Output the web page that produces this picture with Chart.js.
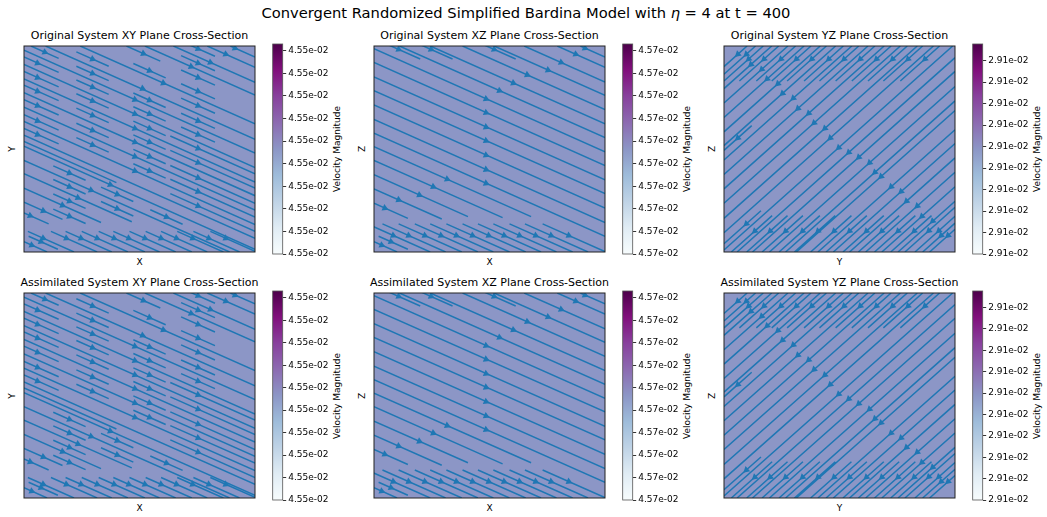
<!DOCTYPE html>
<html>
<head>
<meta charset="utf-8">
<script src="https://cdn.jsdelivr.net/npm/chart.js@4.4.1/dist/chart.umd.min.js"></script>
<style>
  body { margin: 0; background: #fff; width: 1047px; height: 517px; position: relative; overflow: hidden;
         font-family: "DejaVu Sans", sans-serif; color: #000; }
  canvas { position: absolute; }
  .t { position: absolute; white-space: nowrap; transform: translate(-50%, -50%); line-height: 1; }
  .rot { transform: translate(-50%, -50%) rotate(-90deg); }
</style>
</head>
<body>
<div class="t" style="left:526px; top:13px; font-size:14.7px;">Convergent Randomized Simplified Bardina Model with <i>η</i> = 4 at t = 400</div>
<script>
// --- data (grid units 0..30 on both axes) ---
// flow direction of the uniform velocity field in each plane [u, v]
const xyVelocity = [2, -1];
const xzVelocity = [2, -1];
const yzVelocity = [-1, -1];

// streamline pieces: [x start, y start, x end], they follow the flow direction
const xySegments = [
  [0,28.4,4.5],[0,26.3,4.5],[0,24.3,4.5],[0,22.2,4.5],[0,20.0,4.5],[0,18.0,4.5],
  [0.9,30,4.5],
  [6.8,29.15,11],[6.8,27.05,11],[6.8,25.05,11],[6.8,23.05,11],[6.8,20.95,11],[6.8,18.75,11],[6.8,16.65,11],
  [0,29.4,30],[0,27.3,30],[0,25.2,30],[0,23.2,30],[0,21.1,30],[0,19.0,30],[0,17.0,30],[0,16.1,12],
  [14.2,27.45,18.4],[14.2,23.15,18.4],[14.2,21.15,18.4],[14.2,19.05,18.4],[14.2,17.05,18.4],[14.2,14.95,18.4],[14.2,12.85,18.4],
  [13.3,30,17.7],
  [26.8,30,30],[23.8,30,30],[19.4,30,30],[15.7,30,30],[7.3,30,30],[2.8,30,30],
  [20.4,30.7,24.8],[20.4,28.6,24.8],[20.4,26.5,24.8],[20.4,24.5,24.8],[20.4,22.4,24.8],[20.4,20.2,24.8],[20.4,18.2,24.8],
  [19,16.9,30],[19,14.8,30],[19,12.6,30],[19,10.6,30],[19,8.5,30],
  [0,11.4,14],[0,9.3,10],[0,7.25,5],[0,5.7,3.2],[0,13.35,26.7],[0,15.4,30],
  [3.8,12.55,8.0],[10,9.45,14.2],[16.4,6.15,20.6],[3.8,10.55,8.0],[10,7.35,14.2],[3.8,8.45,8.0],[3.8,6.25,8.0],
  [0.5,3,6.5],[3.5,3,9.5],[5.4,3,11.4],[7.5,3,13.5],[9.7,3,15.7],[11.6,3,17.6],[13.7,3,19.7],[15.8,3,21.8],
  [17.8,3,23.8],[19.9,3,25.9],[22.0,3,28.0],[24.2,3,30.2],
  [0.6,2.3,4.4],[0,1.5,3.0]
];
const xyArrows = [
  [1.75,27.5],[1.75,25.4],[1.75,23.4],[1.75,21.3],[1.75,19.1],[1.75,17.1],
  [2.7,29.1],
  [8.9,28.1],[8.9,26.0],[8.9,24.0],[8.9,22.0],[8.9,19.9],[8.9,17.7],[8.9,15.6],
  [14.4,22.2],[14.4,20.1],[14.4,18.0],[14.4,16.0],[14.4,13.9],[14.4,11.8],
  [16.3,26.4],[16.3,22.1],[16.3,20.1],[16.3,18.0],[16.3,16.0],[16.3,13.9],[16.3,11.8],
  [15.5,28.9],
  [27.4,29.7],[26.2,28.8],[24.2,27.6],[21.7,27.0],[18.1,24.6],[15.4,23.8],
  [22.6,29.6],[22.6,27.5],[22.6,25.4],[22.6,23.4],[22.6,21.3],[22.6,19.1],[22.6,17.1],
  [22.6,15.1],[22.6,13.0],[22.6,10.8],[22.6,8.8],[22.6,6.7],
  [5.9,11.5],[5.9,9.5],[11.2,9.8],[8.7,9.0],[12.1,8.4],[7.0,7.9],[5.9,7.4],[5.0,6.8],
  [12.1,6.3],[2.5,6.0],[5.9,5.2],[0.8,5.3],[18.5,5.1],
  [2.5,2.0],[5.5,2.0],[7.4,2.0],[9.5,2.0],[11.7,2.0],[13.6,2.0],[15.7,2.0],[17.8,2.0],
  [19.8,2.0],[21.9,2.0],[24.0,2.0],[26.2,2.0],
  [2.2,1.5],[1.0,1.0]
];

const xzSegments = [
  [1.7,30.25,6.0],[5.9,30.25,10.2],[14.1,30.25,18.4],
  [26.8,30,30],[23.8,30,30],[19.5,30,30],[15.6,30,30],[11.5,30,30],[7.3,30,30],[3.3,30,30],
  [0,29.6,30],[0,27.6,30],[0,25.5,30],[0,23.5,30],[0,21.4,30],[0,19.3,30],[0,17.3,30],
  [0,15.35,20.4],[0,13.35,16.7],[0,11.25,12.2],[0,9.2,8.8],[0,7.1,4.4],
  [-0.9,4.1,7.3],[1.1,4.1,9.3],[3.2,4.1,11.4],[5.3,4.1,13.5],[7.3,4.1,15.5],[9.4,4.1,17.6],
  [11.5,4.1,19.7],[13.5,4.1,21.7],[15.5,4.1,23.7],[17.6,4.1,25.8],[19.6,4.1,27.8],[21.9,4.1,30.1],
  [0.6,2.3,4.4],[0,1.5,3.0]
];
const xzArrows = [
  [3.2,29.5],[7.4,29.5],[15.6,29.5],
  [27.4,29.7],[26.2,28.8],[24.3,27.6],[22.6,26.5],[19.9,25.8],[18.1,24.6],[16.3,23.5],
  [14.55,22.3],[14.55,20.3],[14.55,18.2],[14.55,16.2],[14.55,14.1],[14.55,12.0],[14.55,10.0],
  [9.5,10.6],[7.7,9.5],[5.9,8.3],[3.2,7.6],[1.4,6.4],
  [2.5,2.4],[4.5,2.4],[6.6,2.4],[8.7,2.4],[10.7,2.4],[12.8,2.4],[14.9,2.4],[16.9,2.4],
  [18.9,2.4],[21.0,2.4],[23.0,2.4],[25.3,2.4],
  [2.2,1.5],[1.0,1.0]
];

const yzSegments = [
  [0,21.7,8.3],[0,19.6,10.4],[0,17.5,12.5],[0,15.5,14.5],[0,13.4,16.6],[0,11.3,18.7],
  [0,9.2,20.8],[0,7.1,22.9],[0,4.9,25.1],[0,2.8,27.2],[0,0.3,29.7],
  [1.7,0,30],[3.7,0,30],[5.9,0,30],[8.0,0,30],[9.4,0,30],[12.2,0,30],[14.2,0,30],
  [16.3,0,30],[18.4,0,30],[20.5,0,30],[22.6,0,30],
  [0,27,3],[0,25.9,4.1],[0,24.9,5.1],[0,23.8,6.2],
  [2.0,24.9,7.1],[4.2,24.9,9.3],[6.2,24.9,11.3],[8.2,24.9,13.3],[10.4,24.9,15.5],[12.4,24.9,17.5],
  [14.5,24.9,19.6],[16.6,24.9,21.7],[18.7,24.9,23.8],[20.7,24.9,25.8],[22.9,24.9,28.0],
  [0,14.8,3.6],
  [0,1.2,4.8],[0.95,0,6.25],[2.95,0,8.25],[4.95,0,10.25],[7.15,0,12.45],[9.15,0,14.45],
  [11.25,0,16.55],[13.25,0,18.55],[15.45,0,20.75],[17.45,0,22.75],[19.55,0,24.85],[21.65,0,26.95],
  [23.5,0,30],[24.8,0,30],[25.8,0,30],[26.7,0,30]
];
const yzArrows = [
  [1.8,28.8],[2.9,28.8],[3.2,28.1],[3.5,27.3],
  [5.2,28.1],[7.4,28.1],[9.4,28.1],[11.4,28.1],[13.6,28.1],[15.6,28.1],[17.7,28.1],
  [19.8,28.1],[21.9,28.1],[23.9,28.1],[26.1,28.1],
  [4.9,26.6],[5.6,25.2],[7.0,24.5],[7.6,23.1],[9.0,22.4],[9.6,20.9],[11.0,20.2],[11.7,18.8],
  [13.1,18.0],[13.8,16.6],[14.9,15.2],[16.2,14.5],[17.5,13.8],[18.9,13.0],[19.6,11.6],[20.4,11.0],
  [21.7,9.5],[23.0,8.8],[23.7,7.4],[25.1,6.7],[25.7,5.2],[27.1,4.5],
  [1.8,16.6],
  [2.9,4.1],[4.0,3.05],[6.0,3.05],[8.0,3.05],[10.2,3.05],[12.2,3.05],[14.3,3.05],[16.3,3.05],
  [18.5,3.05],[20.5,3.05],[22.6,3.05],[24.7,3.05],
  [26.6,3.1],[27.9,3.1],[28.2,2.4],[29.1,2.4]
];

// colorbar tick labels (magnitude is constant, so every level prints the same)
const xyTicks = ['4.55e-02','4.55e-02','4.55e-02','4.55e-02','4.55e-02','4.55e-02','4.55e-02','4.55e-02','4.55e-02','4.55e-02'];
const xzTicks = ['4.57e-02','4.57e-02','4.57e-02','4.57e-02','4.57e-02','4.57e-02','4.57e-02','4.57e-02','4.57e-02','4.57e-02'];
const yzTicks = ['2.91e-02','2.91e-02','2.91e-02','2.91e-02','2.91e-02','2.91e-02','2.91e-02','2.91e-02','2.91e-02','2.91e-02'];
// top of each colorbar, in tick steps
const xyBarTop = 9.3, xzBarTop = 9.3, yzBarTop = 9.77;

const rowNames = ['Original', 'Assimilated'];

// BuPu colormap
const BUPU = ['#f7fcfd','#e0ecf4','#bfd3e6','#9ebcda','#8c96c6','#8c6bb1','#88419d','#810f7c','#4d004b'];

// --- helpers ---
function hex2rgb(h) { return [1, 3, 5].map(i => parseInt(h.substr(i, 2), 16)); }
function bupu(t) {
    const p = t * (BUPU.length - 1), i = Math.min(Math.floor(p), BUPU.length - 2), f = p - i;
    const a = hex2rgb(BUPU[i]), b = hex2rgb(BUPU[i + 1]);
    return `rgb(${a.map((v, k) => Math.round(v + (b[k] - v) * f)).join(',')})`;
}
function segPoints(segs, vel) {
    const k = vel[1] / vel[0];
    const pts = [];
    segs.forEach(s => {
        pts.push({ x: s[0], y: s[1] });
        pts.push({ x: s[2], y: s[1] + k * (s[2] - s[0]) });
        pts.push({ x: null, y: null });
    });
    return pts;
}
function addText(txt, x, y, size, rot) {
    const d = document.createElement('div');
    d.className = 't' + (rot ? ' rot' : '');
    d.style.left = x + 'px'; d.style.top = y + 'px'; d.style.fontSize = size + 'px';
    d.textContent = txt;
    document.body.appendChild(d);
}
function addCanvas(left, top, w, h) {
    const c = document.createElement('canvas');
    c.width = w; c.height = h;
    c.style.left = left + 'px'; c.style.top = top + 'px';
    c.style.width = w + 'px'; c.style.height = h + 'px';
    document.body.appendChild(c);
    return c;
}

// --- plugins ---
const fieldFill = {
    id: 'fieldFill',
    beforeDatasetsDraw(chart, args, opts) {
        const { ctx, chartArea: a } = chart;
        ctx.save();
        if (opts.ramp) {
            const g = ctx.createLinearGradient(0, a.bottom, 0, a.top);
            BUPU.forEach((c, i) => g.addColorStop(i / (BUPU.length - 1), c));
            ctx.fillStyle = g;
        } else {
            ctx.fillStyle = opts.color;
        }
        ctx.fillRect(a.left, a.top, a.right - a.left, a.bottom - a.top);
        ctx.restore();
    }
};
const frame = {
    id: 'frame',
    afterDraw(chart, args, opts) {
        const { ctx, chartArea: a } = chart;
        ctx.save();
        ctx.strokeStyle = opts.color;
        ctx.lineWidth = opts.width;
        ctx.strokeRect(a.left, a.top, a.right - a.left, a.bottom - a.top);
        ctx.restore();
    }
};

Chart.defaults.font.family = '"DejaVu Sans", sans-serif';
Chart.defaults.color = '#000';
Chart.defaults.animation = false;

const COL_X = [22, 372, 722];
const ROW_Y = [44, 291];
const ROW_H = [210, 209];
const PLANES = [
    { name: 'XY', xl: 'X', yl: 'Y', segs: xySegments, arrows: xyArrows, vel: xyVelocity, ticks: xyTicks, top: xyBarTop },
    { name: 'XZ', xl: 'X', yl: 'Z', segs: xzSegments, arrows: xzArrows, vel: xzVelocity, ticks: xzTicks, top: xzBarTop },
    { name: 'YZ', xl: 'Y', yl: 'Z', segs: yzSegments, arrows: yzArrows, vel: yzVelocity, ticks: yzTicks, top: yzBarTop }
];
const FIELD = bupu(0.5);

rowNames.forEach((row, r) => {
    PLANES.forEach((p, c) => {
        const left = COL_X[c], top = ROW_Y[r], h = ROW_H[r];

        // texts
        addText(`${row} System ${p.name} Plane Cross-Section`, left + 117.5, top - 9, 11);
        addText(p.xl, left + 117.5, top + h + 8, 9);
        addText(p.yl, left - 10, top + h / 2, 9, true);
        addText('Velocity Magnitude', left + 315, top + h / 2, 9, true);

        // stream plot
        const cv = addCanvas(left - 2, top - 2, 239, h + 4);
        new Chart(cv, {
            type: 'scatter',
            data: {
                datasets: [
                    {
                        data: p.arrows.map(a => ({ x: a[0], y: a[1] })),
                        order: 0,
                        pointStyle: 'triangle',
                        pointRadius: 4,
                        pointBorderWidth: 0,
                        pointBackgroundColor: '#1f77b4',
                        pointRotation: ctx => {
                            const sx = ctx.chart.scales.x, sy = ctx.chart.scales.y;
                            const dx = sx.getPixelForValue(p.vel[0]) - sx.getPixelForValue(0);
                            const dy = sy.getPixelForValue(p.vel[1]) - sy.getPixelForValue(0);
                            return Math.atan2(dx, -dy) * 180 / Math.PI;
                        }
                    },
                    {
                        data: segPoints(p.segs, p.vel),
                        order: 1,
                        showLine: true,
                        borderColor: '#1f77b4',
                        borderWidth: 1.5,
                        pointRadius: 0,
                        pointHitRadius: 0,
                        spanGaps: false
                    }
                ]
            },
            options: {
                responsive: false,
                devicePixelRatio: 1,
                layout: { padding: 2 },
                scales: {
                    x: { type: 'linear', min: 0, max: 30, display: false },
                    y: { type: 'linear', min: 0, max: 30, display: false }
                },
                plugins: {
                    legend: { display: false },
                    tooltip: { enabled: false },
                    fieldFill: { color: FIELD },
                    frame: { color: '#222', width: 1 }
                }
            },
            plugins: [fieldFill, frame]
        });

        // colorbar
        const cb = addCanvas(left + 248, top - 8, 70, h + 16);
        new Chart(cb, {
            type: 'scatter',
            data: { datasets: [] },
            options: {
                responsive: false,
                devicePixelRatio: 1,
                layout: { padding: { left: 2.7, right: 0, top: 8, bottom: 8 } },
                scales: {
                    x: { display: false, min: 0, max: 1 },
                    y: {
                        position: 'right', min: 0, max: p.top,
                        afterFit: s => { s.width = 57.3; },
                        border: { display: false },
                        grid: { drawOnChartArea: false, drawTicks: true, tickLength: 3.5, color: '#000', lineWidth: 0.8 },
                        ticks: {
                            stepSize: 1, includeBounds: false, padding: 2, autoSkip: false,
                            font: { size: 9 },
                            callback: (v, i) => p.ticks[i]
                        }
                    }
                },
                plugins: {
                    legend: { display: false },
                    tooltip: { enabled: false },
                    fieldFill: { ramp: true },
                    frame: { color: '#555', width: 0.8 }
                }
            },
            plugins: [fieldFill, frame]
        });
    });
});
</script>
</body>
</html>
